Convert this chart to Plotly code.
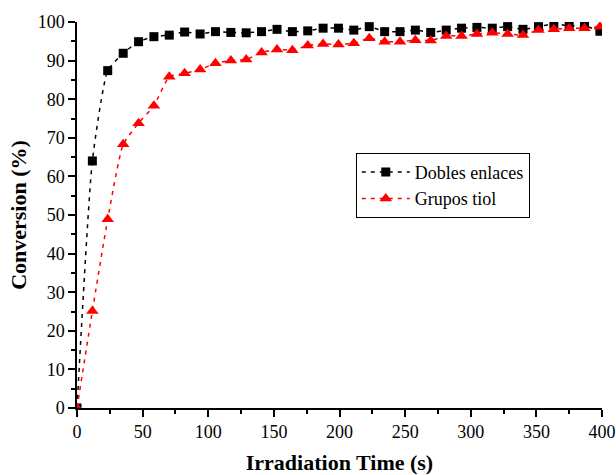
import plotly.graph_objects as go

# Irradiation time (s) for each measurement
time_s = [0, 11.7, 23.4, 35.2, 46.9, 58.6, 70.3, 82.0, 93.8, 105.5, 117.2, 128.9,
          140.6, 152.4, 164.1, 175.8, 187.5, 199.2, 210.9, 222.7, 234.4, 246.1,
          257.8, 269.5, 281.3, 293.0, 304.7, 316.4, 328.1, 339.8, 351.6, 363.3,
          375.0, 386.7, 398.4]

# Conversion (%) of double bonds
dobles_enlaces = [0, 64.0, 87.4, 91.9, 94.9, 96.2, 96.6, 97.4, 96.9, 97.5, 97.3, 97.2,
                  97.5, 98.1, 97.5, 97.7, 98.4, 98.4, 97.9, 98.8, 97.5, 97.5,
                  97.9, 97.3, 97.9, 98.4, 98.6, 98.4, 98.8, 98.1, 98.8, 99.5,
                  99.0, 99.0, 97.6]

# Conversion (%) of thiol groups
grupos_tiol = [0, 25.1, 48.9, 68.3, 73.8, 78.3, 85.8, 86.7, 87.7, 89.3, 90.0, 90.3,
               92.1, 92.9, 92.7, 93.9, 94.3, 94.2, 94.5, 95.8, 94.9, 94.9,
               95.3, 95.2, 96.4, 96.4, 96.9, 97.2, 96.9, 96.6, 97.9, 98.1,
               98.4, 98.4, 98.8]

FONT = "Liberation Serif"

fig = go.Figure()
fig.add_trace(go.Scatter(
    x=time_s, y=dobles_enlaces, name="Dobles enlaces",
    mode="lines+markers",
    line=dict(color="black", width=1.5, dash="4px,5px", shape="spline", smoothing=0.5),
    marker=dict(symbol="square", size=9, color="black"),
))
fig.add_trace(go.Scatter(
    x=time_s, y=grupos_tiol, name="Grupos tiol",
    mode="lines+markers",
    line=dict(color="red", width=1.5, dash="4px,5px", shape="spline", smoothing=0.5),
    marker=dict(symbol="triangle-up", size=11, color="red"),
))

axis_common = dict(
    showline=True, linecolor="black", linewidth=1.5,
    ticks="outside", tickcolor="black", tickwidth=1.5, ticklen=7,
    showgrid=False, zeroline=False, mirror=False, automargin=False,
    tickfont=dict(family=FONT, size=18, color="black"),
)

fig.update_xaxes(
    range=[0, 400], dtick=50, tick0=0,
    minor=dict(ticks="outside", dtick=25, ticklen=4, tickcolor="black", tickwidth=1.5),
    title=dict(text="<b>Irradiation Time (s)</b>", font=dict(family=FONT, size=22, color="black"),
               standoff=15),
    **axis_common,
)
fig.update_yaxes(
    range=[0, 100], dtick=10, tick0=0,
    minor=dict(ticks="outside", dtick=5, ticklen=4, tickcolor="black", tickwidth=1.5),
    title=dict(text="<b>Conversion (%)</b>", font=dict(family=FONT, size=22, color="black"),
               standoff=5),
    **axis_common,
)

fig.update_layout(
    width=616, height=475,
    margin=dict(l=77, r=14, t=22, b=67, autoexpand=False),
    paper_bgcolor="white", plot_bgcolor="white",
    font=dict(family=FONT, color="black"),
    legend=dict(
        x=0.531, y=0.661, xanchor="left", yanchor="top",
        bordercolor="black", borderwidth=1, bgcolor="white",
        font=dict(family=FONT, size=18, color="black"),
        tracegroupgap=0, itemwidth=48,
    ),
    showlegend=True,
)

fig.write_html("out.html")
